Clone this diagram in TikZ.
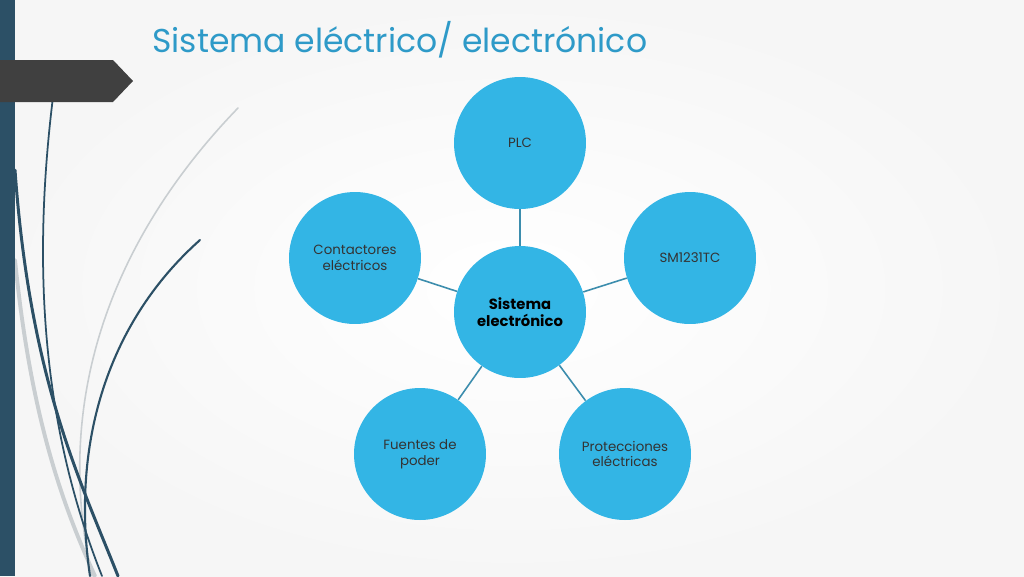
\documentclass[tikz,border=0pt]{standalone}
\usepackage{fontspec}
\setmainfont{Poppins}
\usetikzlibrary{positioning}
\definecolor{bubble}{HTML}{33B5E5}
\definecolor{spoke}{HTML}{3C8DAD}
\definecolor{titleblue}{HTML}{2E9AC8}
\definecolor{barblue}{HTML}{2C5066}
\definecolor{banner}{HTML}{404040}
\definecolor{swirlgray}{HTML}{C9CED1}

\begin{document}
\begin{tikzpicture}[x=0.02cm,y=-0.02cm,
    bubble/.style={circle, fill=bubble, minimum size=2.64cm, inner sep=0pt, align=center, text=black!80, font=\fontsize{7.6}{9}\selectfont},
    hub/.style={bubble, text=black, font=\bfseries\fontsize{8.4}{10}\selectfont},
    spoke/.style={draw=spoke, line width=0.9pt},
    swirl/.style={line cap=round}]

    % slide background
    \shade[inner color=white, outer color=gray!7] (0,0) rectangle (1024,576);
    \useasboundingbox (0,0) rectangle (1024,576);

    % swirls on the left
    \draw[swirl, swirlgray, line width=2.2pt] (15,260) .. controls (30,410) and (60,500) .. (95,576);
    \draw[swirl, swirlgray, line width=0.9pt] (238,108) .. controls (120,230) and (50,390) .. (92,576);
    \draw[swirl, barblue, line width=1.7pt] (15,170) .. controls (30,380) and (80,480) .. (118,576);
    \draw[swirl, barblue, line width=1pt] (53,97) .. controls (33,260) and (40,420) .. (102,576);
    \draw[swirl, barblue, line width=1.2pt] (200,240) .. controls (110,320) and (70,440) .. (90,576);
    \fill[barblue] (0,0) rectangle (15,576);                                           % side bar
    \fill[banner] (0,60) -- (113,60) -- (133,81) -- (113,102) -- (0,102) -- cycle;     % arrow banner

    \node[anchor=base west, inner sep=0pt, text=titleblue, font=\fontsize{18.8}{22}\selectfont] (title) at (152,52) {Sistema eléctrico/ electrónico};

    % the bubbles
    \node[hub] (hub) at (520,312) {Sistema\\electrónico};
    \node[bubble] (plc) at (520,143) {PLC};
    \node[bubble] (sm) at (690,258) {SM1231TC};
    \node[bubble] (cont) at (355,258) {Contactores\\eléctricos};
    \node[bubble] (fuentes) at (420,454) {Fuentes de\\poder};
    \node[bubble] (prot) at (625,454) {Protecciones\\eléctricas};

    % spokes from the hub
    \draw[spoke] (hub) -- (plc);
    \draw[spoke] (hub) -- (sm);
    \draw[spoke] (hub) -- (prot);
    \draw[spoke] (hub) -- (fuentes);
    \draw[spoke] (hub) -- (cont);
\end{tikzpicture}
\end{document}
